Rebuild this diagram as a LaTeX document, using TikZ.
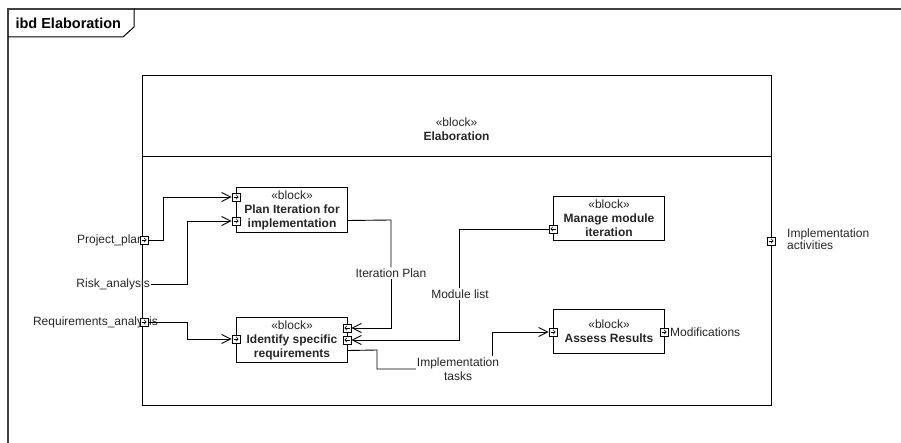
\documentclass[tikz,border=0pt]{standalone}
\usepackage{fontspec}
\setmainfont{Liberation Sans}
\usetikzlibrary{arrows.meta,calc}

\tikzset{
  txt/.style={font=\fontsize{12}{14}\selectfont, text=black!85},
  blk/.style={draw, line width=1pt, fill=white, minimum width=111pt, minimum height=45pt,
              inner sep=0pt, align=center, txt, anchor=north west},
  port/.style={draw, line width=0.8pt, fill=white, minimum size=8pt, inner sep=0pt},
  conn/.style={line width=0.9pt},
  flow/.style={conn, -{Straight Barb[length=9pt,width=9pt,line width=0.9pt]}},
  lbl/.style={txt, inner sep=1pt},
}

% small direction arrow drawn inside a port square
\newcommand\portarrow[3]{%
  \draw[line width=0.6pt, -{Straight Barb[length=2pt,width=4.5pt,line width=0.6pt]}]
    ([xshift=#2pt]#1.center) -- ([xshift=#3pt]#1.center);}

\begin{document}
\begin{tikzpicture}[x=1pt,y=-1pt]
\useasboundingbox (0,0) rectangle (901,443);

% diagram frame and its name tab
\draw[line width=1.4pt, black!75] (8,443) -- (8,9) -- (901,9);
\draw[line width=1pt] (8,37) -- (123,37) -- (134,27) -- (134,9);
\node[anchor=west, font=\fontsize{14.5}{16}\selectfont\bfseries] (title) at (12,23) {ibd Elaboration};

% enclosing block
\node[draw, line width=1pt, minimum width=629pt, minimum height=330pt, inner sep=0pt,
      anchor=north west] (elab) at (142,75) {};
\draw[line width=1pt] (elab.north west) ++(0,82) coordinate (dl) -- (dl -| elab.east);
\node[txt, align=center] (elabname) at (456.5,129.5) {«block»\\\textbf{Elaboration}};

% parts
\node[blk] (plan)   at (236,187) {«block»\\\textbf{Plan Iteration for}\\\textbf{implementation}};
\node[blk] (ident)  at (236,317) {«block»\\\textbf{Identify specific}\\\textbf{requirements}};
\node[blk, minimum height=44pt] (manage) at (553,196) {«block»\\\textbf{Manage module}\\\textbf{iteration}};
\node[blk, minimum height=44pt] (assess) at (553,309) {«block»\\\textbf{Assess Results}};

% boundary labels
\node[lbl, anchor=east] (pplab) at (145,240) {Project\_plan};
\node[lbl, anchor=east] (ra)    at (151,284) {Risk\_analysis};
\node[lbl, anchor=east] (prlab) at (159,322) {Requirements\_analysis};
\node[lbl, anchor=west] (mod)   at (669,332) {Modifications};
\node[lbl, anchor=west, align=left, font=\fontsize{12}{12.5}\selectfont] (ialab) at (786,239) {Implementation\\activities};

% ports
\node[port] (pp)     at (144,240) {};
\node[port] (pr)     at (144,322) {};
\node[port] (pia)    at (771,241) {};
\node[port] (plan1)  at (236,197) {};
\node[port] (plan2)  at (236,221) {};
\node[port] (identL) at (236,339) {};
\node[port] (identR1) at (347,328) {};
\node[port] (identR2) at (347,340) {};
\node[port] (manP)   at (553,229) {};
\node[port] (assL)   at (553,332) {};
\node[port] (assR)   at (664,332) {};

% connector labels
\node[lbl, fill=white] (itp)  at (391,273) {Iteration Plan};
\node[lbl, fill=white] (mlist) at (460,294) {Module list};
\node[lbl, fill=white, align=center] (itasks) at (458,369) {Implementation\\tasks};

% connectors
\draw[flow] (pp.east) -- (163,240) |- (plan1.west);
\draw[flow] (ra.east) -- (187,284) |- (plan2.west);
\draw[flow] (pr.east) -- (187,322) |- (identL.west);
\draw[conn] ([yshift=-10.5pt]plan.east) -- (391,220) -- (itp.north);
\draw[flow] (itp.south) -- (391,328) -- (identR1.east);
\draw[conn] (manP.west) -- (459,229) -- (mlist.north -| 459,0);
\draw[flow] (mlist.south -| 459,0) -- (459,340) -- (identR2.east);
\draw[conn] ([yshift=-10.5pt]ident.east) -- (377,350) |- (itasks.west);
\draw[flow] ([xshift=34pt]itasks.north) |- (assL.west);

% redraw ports over the connector ends
\foreach \p in {pp,pr,pia,plan1,plan2,identL,identR1,identR2,manP,assL,assR}
  \node[port] at (\p) {};
\portarrow{pp}{-2.5}{2.5}
\portarrow{pr}{-2.5}{2.5}
\portarrow{pia}{-2.5}{2.5}
\portarrow{plan1}{-2.5}{2.5}
\portarrow{plan2}{-2.5}{2.5}
\portarrow{identL}{-2.5}{2.5}
\portarrow{identR1}{2.5}{-2.5}
\portarrow{identR2}{2.5}{-2.5}
\portarrow{manP}{2.5}{-2.5}
\portarrow{assL}{-2.5}{2.5}
\portarrow{assR}{-2.5}{2.5}
\end{tikzpicture}
\end{document}
